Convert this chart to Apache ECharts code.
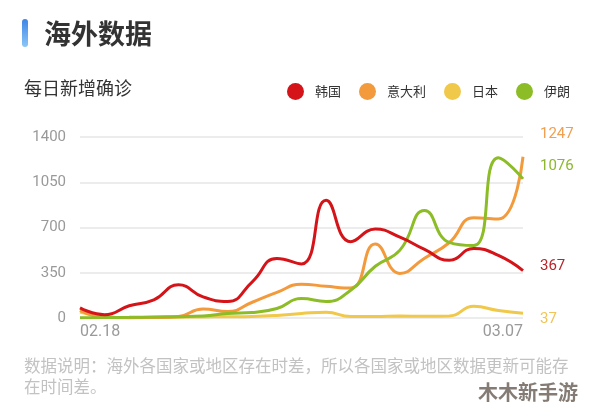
<!DOCTYPE html>
<html lang="zh">
  <head>
    <meta charset="UTF-8" />
    <title>海外数据</title>
    <script src="https://cdnjs.cloudflare.com/ajax/libs/echarts/6.0.0/echarts.min.js"></script>
    <style>
      html, body { margin: 0; padding: 0; background: #fff; }
      #main { width: 594px; height: 410px; }
    </style>
  </head>
  <body>
    <div id="main"></div>
    <script type="text/javascript">
      // 日期 02.18 - 03.07
      var dates = ["02.18", "02.19", "02.20", "02.21", "02.22", "02.23", "02.24", "02.25", "02.26", "02.27",
                   "02.28", "02.29", "03.01", "03.02", "03.03", "03.04", "03.05", "03.06", "03.07"];
      var korea = [78, 26, 95, 140, 257, 163, 128, 280, 460, 418, 910, 590, 688, 625, 530, 446, 538, 484, 367];
      var italy = [58, 5, 0, 3, 12, 70, 50, 122, 198, 262, 245, 232, 572, 345, 462, 582, 775, 765, 1247];
      var japan = [45, 10, 3, 5, 6, 8, 10, 12, 20, 35, 45, 12, 12, 15, 14, 15, 90, 58, 37];
      var iran = [2, 3, 5, 8, 10, 15, 35, 42, 73, 150, 128, 215, 400, 525, 832, 585, 560, 1240, 1076];
      var yTicks = [0, 350, 700, 1050, 1400];

      var names = ["韩国", "意大利", "日本", "伊朗"];
      var colors = ["#d41418", "#f39a3c", "#f0c84a", "#8cbc26"];
      var labelColors = ["#b8242a", "#f0a04e", "#f0c458", "#8cb82e"];
      var labelOffset = [[9, -4], [9, -23], [9, 6], [9, -13]];
      var values = [korea, italy, japan, iran];

      var chart = echarts.init(document.getElementById("main"));

      var series = names.map(function (n, i) {
        return {
          name: n,
          type: "line",
          data: values[i],
          smooth: true,
          showSymbol: false,
          symbol: "circle",
          z: [5, 3, 2, 4][i],
          lineStyle: { width: 3, color: colors[i] },
          itemStyle: { color: colors[i] },
          endLabel: {
            show: true,
            formatter: function (p) { return p.value; },
            color: labelColors[i],
            fontSize: 15,
            fontFamily: "Roboto",
            offset: labelOffset[i]
          }
        };
      });

      var option = {
        animation: false,
        backgroundColor: "#fff",
        color: colors,
        graphic: [
          {
            type: "rect",
            left: 22, top: 19,
            shape: { width: 6, height: 28, r: 3 },
            style: {
              fill: new echarts.graphic.LinearGradient(0, 0, 0, 1, [
                { offset: 0, color: "#3d86e6" },
                { offset: 1, color: "#8cc6f7" }
              ])
            }
          },
          {
            type: "text", left: 44, top: 20,
            style: { text: "海外数据", fontSize: 27, fontWeight: "bold", fill: "#333",
                     fontFamily: "Noto Sans CJK SC" }
          },
          {
            type: "text", left: 24, top: 79,
            style: { text: "每日新增确诊", fontSize: 18, fill: "#333", fontFamily: "Noto Sans CJK SC" }
          },
          {
            type: "text", left: 24, top: 355,
            style: {
              text: "数据说明：海外各国家或地区存在时差，所以各国家或地区数据更新可能存\n在时间差。",
              fontSize: 16.5, lineHeight: 21, fill: "#c2c2c2", fontFamily: "Noto Sans CJK SC"
            }
          },
          {
            type: "text", left: 478, top: 382,
            style: { text: "木木新手游", fontSize: 20, fontWeight: "bold", fill: "rgba(110,100,92,0.85)",
                     fontFamily: "Noto Sans CJK SC" }
          }
        ],
        legend: {
          data: names,
          left: 282,
          top: 78,
          icon: "circle",
          itemWidth: 17,
          itemHeight: 17,
          itemGap: 18,
          textStyle: { fontSize: 13, color: "#333", fontFamily: "Noto Sans CJK SC", padding: [0, 0, 0, 6] }
        },
        grid: { left: 80, right: 71, top: 137, bottom: 92 },
        xAxis: {
          type: "category",
          data: dates,
          boundaryGap: false,
          axisLine: { show: false },
          axisTick: { show: false },
          axisLabel: {
            interval: function (i) { return i === 0 || i === dates.length - 1; },
            alignMinLabel: "left",
            alignMaxLabel: "right",
            color: "#999",
            fontSize: 16,
            fontFamily: "Roboto",
            margin: 6
          }
        },
        yAxis: {
          type: "value",
          min: yTicks[0],
          max: yTicks[yTicks.length - 1],
          interval: 350,
          axisLine: { show: false },
          axisTick: { show: false },
          axisLabel: {
            color: "#999", fontSize: 15, fontFamily: "Roboto", margin: 14,
            formatter: function (v) { return String(v); }
          },
          splitLine: { lineStyle: { color: "#ececec", width: 2 } }
        },
        series: series
      };

      chart.setOption(option);

      window.onresize = function () {
        chart.resize();
      };
    </script>
  </body>
</html>
